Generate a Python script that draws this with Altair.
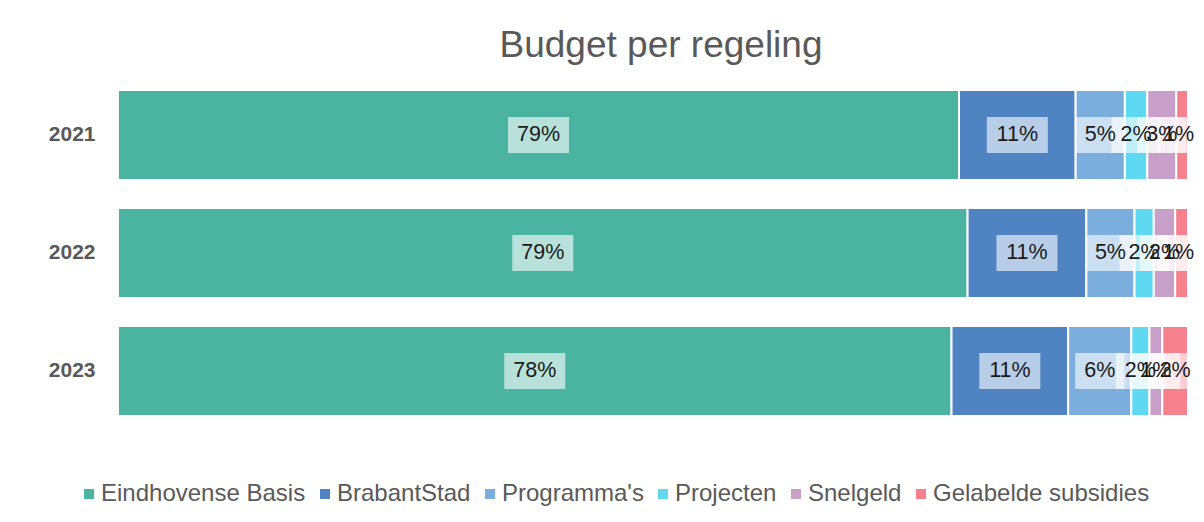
import altair as alt
import pandas as pd

years = ["2021", "2022", "2023"]
categories = ["Eindhovense Basis", "BrabantStad", "Programma's", "Projecten", "Snelgeld", "Gelabelde subsidies"]
colors = ["#4BB4A0", "#4F83C2", "#7BAEDD", "#5FD9F2", "#C79FC9", "#F6808C"]
values_2021 = [78.6, 10.9, 4.6, 2.1, 2.7, 1.1]
values_2022 = [79.4, 11.1, 4.5, 1.8, 2.0, 1.2]
values_2023 = [77.9, 10.9, 5.9, 1.7, 1.2, 2.4]

series = {"2021": values_2021, "2022": values_2022, "2023": values_2023}
PLOT_W, PLOT_H = 1070, 354
RIGHT_PAD = 8
LABEL_FS = 21.5

rows = []
for y in years:
    vals = series[y]
    total = sum(vals)
    cum = 0.0
    for i, (c, v) in enumerate(zip(categories, vals)):
        pct = v / total * 100
        lab = f"{int(pct + 0.5)}%"
        ndig = len(lab) - 1
        text_half_px = (ndig * 0.556 + 0.889) * LABEL_FS / 2
        half = (text_half_px + 9) * 100 / PLOT_W
        mid = cum + pct / 2
        # keep label text inside the canvas
        max_mid = (PLOT_W + RIGHT_PAD - 2 - text_half_px) * 100 / PLOT_W
        tmid = min(mid, max_mid)
        rows.append({"year": y, "cat": c, "order": i, "x0": cum, "x1": cum + pct,
                     "mid": tmid, "bx0": mid - half, "bx1": mid + half, "label": lab})
        cum += pct
df = pd.DataFrame(rows)

xscale = alt.Scale(domain=[0, 100], nice=False, zero=False)
yenc = alt.Y("year:N", sort=years, title=None,
             scale=alt.Scale(paddingInner=0.237, paddingOuter=0.119),
             axis=alt.Axis(domain=False, ticks=False, labelFontSize=21, labelFontWeight="bold",
                           labelColor="#595959", labelPadding=23, labelFont="Liberation Sans"))

base = alt.Chart(df)
bars = base.mark_bar(stroke="white", strokeWidth=2).encode(
    x=alt.X("x0:Q", scale=xscale, axis=None),
    x2="x1:Q",
    y=yenc,
    color=alt.Color("cat:N", sort=categories,
                    scale=alt.Scale(domain=categories, range=colors),
                    legend=alt.Legend(title=None, orient="none", direction="horizontal",
                                      legendX=-41, legendY=406, columns=6,
                                      symbolType="square", symbolSize=100, symbolStrokeWidth=0,
                                      labelFontSize=24, labelColor="#595959", labelFont="Liberation Sans",
                                      labelOffset=0, columnPadding=7, labelLimit=400)),
    order=alt.Order("order:Q"),
)
boxes = base.mark_bar(height=36, color="white", opacity=0.6).encode(
    x=alt.X("bx0:Q", scale=xscale, axis=None),
    x2="bx1:Q",
    y=alt.Y("year:N", sort=years),
)
texts = base.mark_text(fontSize=LABEL_FS, color="#1a1a1a", font="Liberation Sans", baseline="middle").encode(
    x=alt.X("mid:Q", scale=xscale, axis=None),
    y=alt.Y("year:N", sort=years),
    text="label:N",
)

chart = alt.layer(bars, boxes, texts).properties(
    width=PLOT_W, height=PLOT_H,
    background="white",
    title=alt.TitleParams("Budget per regeling", fontSize=37, font="Liberation Sans", fontWeight="normal",
                          color="#595959", anchor="middle", offset=11, dx=8),
    autosize=alt.AutoSizeParams(type="none"),
    padding={"left": 110, "top": 68, "right": RIGHT_PAD, "bottom": 92},
).configure_view(stroke=None)

chart.save("out.html", embed_options={"renderer": "svg", "actions": False})
